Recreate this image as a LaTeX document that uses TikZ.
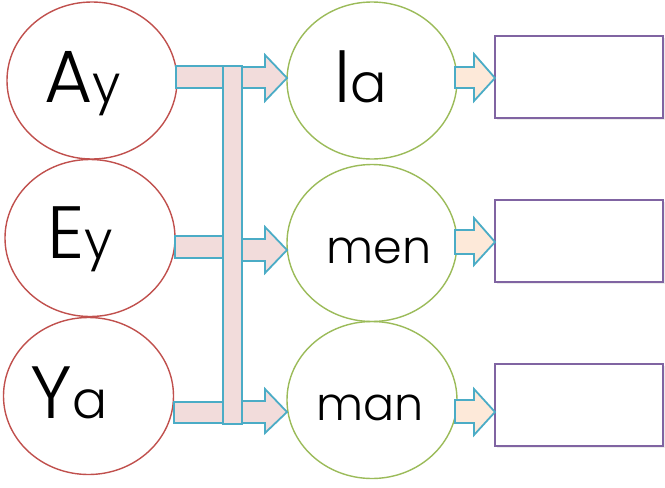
\documentclass[tikz,border=0pt]{standalone}
\usepackage{fontspec}
\setmainfont{Poppins}[UprightFont=* Light]
\usetikzlibrary{shapes.geometric,shadows}
\definecolor{cred}{HTML}{C0504D}
\definecolor{cgreen}{HTML}{9BBB59}
\definecolor{cblue}{HTML}{4BACC6}
\definecolor{cpink}{HTML}{F2DCDB}
\definecolor{cpeach}{HTML}{FDE9D9}
\definecolor{cpurple}{HTML}{8064A2}
\newcommand\capletter[1]{{\fontsize{74}{74}\selectfont #1}}
\newcommand\lowletter[1]{{\fontsize{52}{52}\selectfont #1}}
\newcommand\blockarr[9]{%
  \path[#1] (#2,#5) -- (#3,#5) -- (#3,#7) -- (#4,#9) -- (#3,#8) -- (#3,#6) -- (#2,#6) -- cycle;}
\tikzset{
  lcirc/.style={ellipse, draw=cred, line width=1.4pt, minimum width=170pt, minimum height=157pt, inner sep=0pt},
  mcirc/.style={ellipse, draw=cgreen, line width=1.4pt, minimum width=170pt, minimum height=157pt, inner sep=0pt},
  answer/.style={rectangle, draw=cpurple, line width=1.6pt, fill=white, minimum width=168pt, minimum height=82pt, inner sep=0pt,
    drop shadow={shadow xshift=1.5pt, shadow yshift=-1.5pt, opacity=0.15}},
  word/.style={inner sep=0pt, anchor=base, text=black, font=\fontsize{46}{46}\selectfont},
  pinkbar/.style={fill=cpink, draw=cblue, line width=1.8pt},
  peacharr/.style={fill=cpeach, draw=cblue, line width=1.8pt, line join=miter},
  pinkarr/.style={fill=cpink, draw=cblue, line width=1.8pt, line join=miter}
}
\begin{document}
\begin{tikzpicture}[x=1pt,y=-1pt]
\useasboundingbox (0,0) rectangle (665,488);
% left circles
\node[lcirc] (a1) at (92,80.5) {};
\node[lcirc] (a2) at (90,238) {};
\node[lcirc] (a3) at (88.5,396) {};
% middle circles
\node[mcirc] (b1) at (372,80.5) {};
\node[mcirc] (b2) at (372,243) {};
\node[mcirc] (b3) at (372,400) {};
% answer boxes
\node[answer] (r1) at (579,77) {};
\node[answer] (r2) at (579,241) {};
\node[answer] (r3) at (579,405) {};
% connectors: bars into a vertical collector
\path[pinkbar] (176,66) rectangle (224,88);
\path[pinkbar] (175,236) rectangle (223,258);
\path[pinkbar] (174,402) rectangle (223,423);
\path[pinkbar] (223,66) rectangle (242,424);
% arrows to middle circles
\blockarr{pinkarr}{242}{265}{287}{67}{88}{55}{101}{78}
\blockarr{pinkarr}{242}{265}{287}{239}{261}{227}{273}{250}
\blockarr{pinkarr}{242}{265}{287}{401}{423}{389}{433}{412}
% arrows to boxes
\blockarr{peacharr}{455}{474}{495}{67}{88}{54}{101}{78}
\blockarr{peacharr}{455}{474}{495}{230}{254}{218}{265}{242}
\blockarr{peacharr}{455}{474}{495}{400}{423}{389}{435}{412}
% words
\node[word] (w1) at (83,102) {\capletter{A}\lowletter{y}};
\node[word] (w2) at (80,258) {\capletter{E}\lowletter{y}};
\node[word] (w3) at (69,418) {\capletter{Y}\lowletter{a}};
\node[word] (w4) at (361,102) {{\fontsize{70}{70}\selectfont l}{\fontsize{54}{54}\selectfont a}};
\node[word] (w5) at (379,263) {men};
\node[word] (w6) at (370,420) {man};
\end{tikzpicture}
\end{document}
